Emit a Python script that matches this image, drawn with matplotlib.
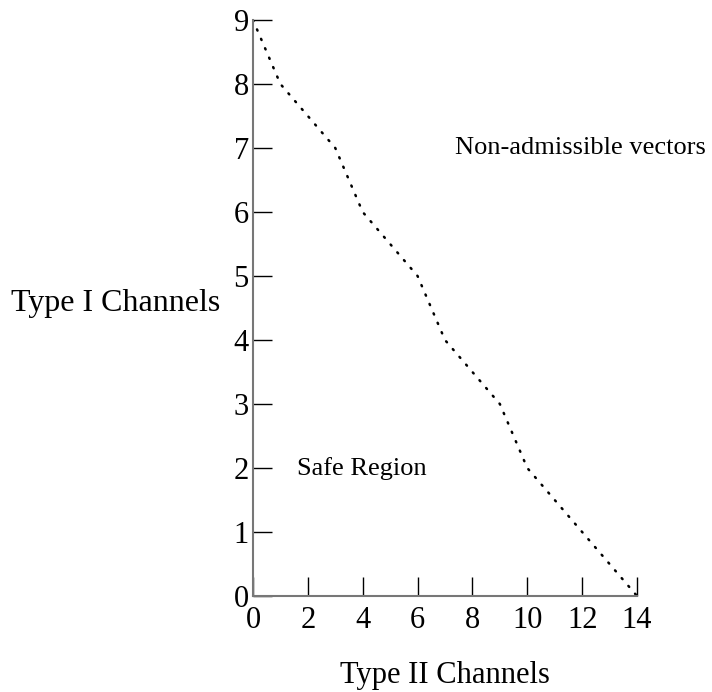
import numpy as np
import matplotlib as mpl
mpl.use('Agg')
import matplotlib.pyplot as plt

# boundary between safe region and non-admissible vectors
type2_channels = [0, 1, 3, 4, 6, 7, 9, 10, 12, 14]
type1_channels = [9, 8, 7, 6, 5, 4, 3, 2, 1, 0]

x_ticks = [0, 2, 4, 6, 8, 10, 12, 14]
y_ticks = [0, 1, 2, 3, 4, 5, 6, 7, 8, 9]

plt.rcParams['font.family'] = ['Liberation Serif', 'DejaVu Serif']

fig = plt.figure(figsize=(7.12, 6.92), dpi=100)
ax = fig.add_axes([0.3553, 0.1387, 0.5394, 0.8324])

ax.plot(type2_channels, type1_channels, color='black', linewidth=1.8,
        linestyle=(0, (0.5, 3.6)), dash_capstyle='round')

ax.set_xlim(0, 14)
ax.set_ylim(0, 9)
ax.set_xticks(x_ticks)
ax.set_yticks(y_ticks)

for side in ['top', 'right']:
    ax.spines[side].set_visible(False)
for side in ['left', 'bottom']:
    ax.spines[side].set_color('#777777')
    ax.spines[side].set_linewidth(1.5)

ax.tick_params(axis='both', direction='in', length=14, width=1, color='black',
               labelsize=22)
ax.tick_params(axis='x', pad=7)
ax.tick_params(axis='y', pad=3)

ax.set_xlabel('Type II Channels', fontsize=22, labelpad=19)
ax.set_ylabel('Type I Channels', fontsize=23, rotation=0, va='center')
ax.yaxis.set_label_coords(-0.358, 0.507)

ax.text(7.35, 7.0, 'Non-admissible vectors', fontsize=19, va='center', ha='left')
ax.text(1.6, 2.0, 'Safe Region', fontsize=19, va='center', ha='left')

fig.savefig('out.png', dpi=100)
